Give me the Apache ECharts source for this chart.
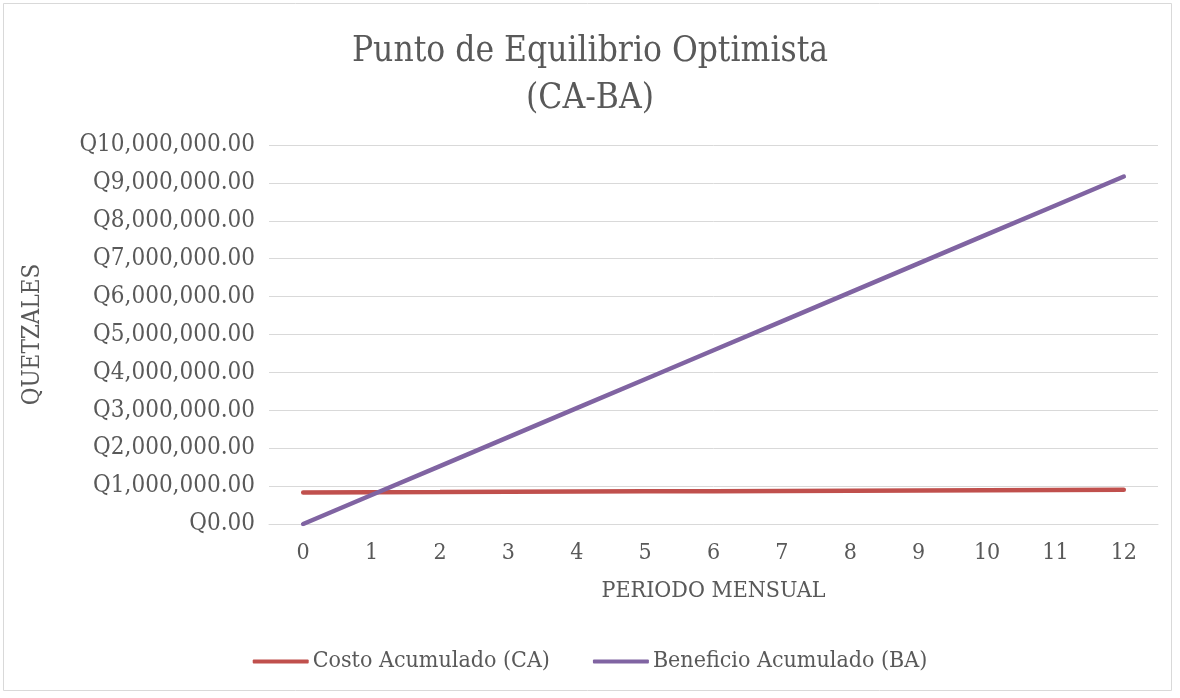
<!DOCTYPE html>
<html>
<head>
<meta charset="utf-8">
<script src="https://cdn.jsdelivr.net/npm/echarts@6/dist/echarts.min.js"></script>
<style>
  html, body { margin: 0; padding: 0; background: #ffffff; }
  #chart { width: 1180px; height: 698px; }
</style>
</head>
<body>
<div id="chart"></div>
<script>
// datos
var periodos = ['0', '1', '2', '3', '4', '5', '6', '7', '8', '9', '10', '11', '12']
var costoAcumulado = [830000, 836000, 842000, 849000, 855000, 861000, 867000, 874000, 880000, 886000, 892000, 899000, 905000]
var beneficioAcumulado = [0, 764000, 1528000, 2292000, 3056000, 3820000, 4584000, 5348000, 6112000, 6876000, 7640000, 8404000, 9168000]

var fuente = "'DejaVu Serif Condensed', 'Liberation Serif', serif"
var colorTexto = '#595959'

function formatoQ (v) {
    return 'Q' + Number(v).toLocaleString('en-US', { minimumFractionDigits: 2, maximumFractionDigits: 2 })
}

var chart = echarts.init(document.getElementById('chart'))
var option = {
    backgroundColor: '#ffffff',
    textStyle: { fontFamily: fuente, color: colorTexto },
    graphic: [{
        type: 'rect',
        shape: { x: 3.5, y: 3.5, width: 1168, height: 687 },
        style: { fill: 'none', stroke: '#d9d9d9', lineWidth: 1 },
        silent: true
    }],
    title: {
        text: 'Punto de Equilibrio Optimista\n(CA-BA)',
        left: 'center',
        top: 23,
        textStyle: {
            fontFamily: fuente,
            fontWeight: 'normal',
            fontSize: 35,
            lineHeight: 47,
            color: colorTexto
        }
    },
    legend: {
        bottom: 20,
        left: 'center',
        itemWidth: 56,
        itemHeight: 4,
        itemGap: 43,
        icon: 'roundRect',
        textStyle: { fontFamily: fuente, fontSize: 23, color: colorTexto, padding: [0, 0, 0, -1] },
        data: ['Costo Acumulado (CA)', 'Beneficio Acumulado (BA)']
    },
    grid: {
        left: 269,
        right: 22,
        top: 145,
        bottom: 174,
        containLabel: false
    },
    xAxis: {
        type: 'category',
        data: periodos,
        boundaryGap: true,
        name: 'PERIODO MENSUAL',
        nameLocation: 'middle',
        nameGap: 56,
        nameTextStyle: { fontFamily: fuente, fontSize: 23, color: colorTexto },
        axisLine: { show: true, lineStyle: { color: '#d9d9d9', width: 1 } },
        axisTick: { show: false },
        axisLabel: { fontFamily: fuente, fontSize: 23, color: colorTexto, margin: 18 }
    },
    yAxis: {
        type: 'value',
        min: 0,
        max: 10000000,
        interval: 1000000,
        name: 'QUETZALES',
        nameLocation: 'middle',
        nameGap: 224,
        nameRotate: 90,
        nameTextStyle: { fontFamily: fuente, fontSize: 24, color: colorTexto },
        axisLine: { show: false },
        axisTick: { show: false },
        splitLine: { lineStyle: { color: '#d9d9d9', width: 1 } },
        axisLabel: {
            fontFamily: fuente,
            fontSize: 24,
            color: colorTexto,
            margin: 14,
            formatter: formatoQ
        }
    },
    series: [{
        name: 'Costo Acumulado (CA)',
        type: 'line',
        data: costoAcumulado,
        showSymbol: false,
        symbol: 'none',
        color: '#c0504d',
        lineStyle: { color: '#c0504d', width: 4.5, cap: 'round' }
    }, {
        name: 'Beneficio Acumulado (BA)',
        type: 'line',
        data: beneficioAcumulado,
        showSymbol: false,
        symbol: 'none',
        color: '#8064a2',
        lineStyle: { color: '#8064a2', width: 4.5, cap: 'round' }
    }]
}
chart.setOption(option)
</script>
</body>
</html>
